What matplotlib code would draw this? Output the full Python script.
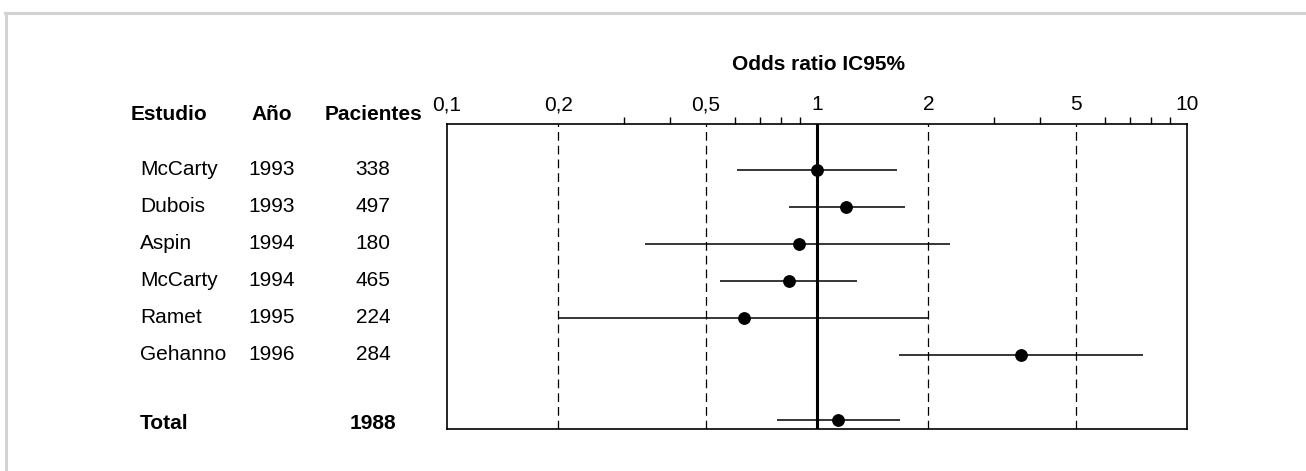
import matplotlib.pyplot as plt
import matplotlib.transforms as mtransforms
from matplotlib.lines import Line2D

plt.rcParams['font.family'] = ['Liberation Sans', 'DejaVu Sans']

# data
estudios = ['McCarty', 'Dubois', 'Aspin', 'McCarty', 'Ramet', 'Gehanno']
anios = [1993, 1993, 1994, 1994, 1995, 1996]
pacientes = [338, 497, 180, 465, 224, 284]
odds = [1.0, 1.20, 0.894, 0.842, 0.634, 3.55]
ic_low = [0.607, 0.842, 0.342, 0.548, 0.2, 1.662]
ic_high = [1.646, 1.728, 2.288, 1.285, 2.0, 7.62]

total_pacientes = 1988
total_odds = 1.137
total_low = 0.782
total_high = 1.674

tick_vals = [0.1, 0.2, 0.5, 1, 2, 5, 10]
tick_labels = ['0,1', '0,2', '0,5', '1', '2', '5', '10']
minor_vals = [0.3, 0.4, 0.6, 0.7, 0.8, 0.9, 3, 4, 6, 7, 8, 9]
ref_lines = [0.2, 0.5, 2, 5]

W, H = 1306, 471
FS = 15
fig = plt.figure(figsize=(W / 100, H / 100), dpi=100)
ax = fig.add_axes([447 / W, 1 - 429 / H, (1187 - 447) / W, (429 - 124) / H])

# gray frame (top and left only)
fig.add_artist(Line2D([5 / W, 1], [1 - 13 / H, 1 - 13 / H], color='#d2d2d2', lw=2.2,
                      transform=fig.transFigure))
fig.add_artist(Line2D([6 / W, 6 / W], [0, 1 - 13 / H], color='#d2d2d2', lw=2.2,
                      transform=fig.transFigure))

ax.set_xscale('log')
ax.set_xlim(0.1, 10)
ax.set_ylim(7.0, -1.243)

for v in ref_lines:
    ax.axvline(v, color='black', lw=0.9, dashes=(7, 4))
ax.axvline(1, color='black', lw=2.2)

rows = list(range(len(estudios)))
total_row = 6.76

ax.hlines(rows, ic_low, ic_high, color='black', lw=1.1)
ax.plot(odds, rows, 'o', color='black', ms=8.2)
ax.hlines([total_row], [total_low], [total_high], color='black', lw=1.1)
ax.plot([total_odds], [total_row], 'o', color='black', ms=8.2)

ax.xaxis.set_ticks_position('top')
ax.xaxis.set_label_position('top')
ax.set_xticks(tick_vals)
ax.set_xticklabels(tick_labels, fontsize=FS)
ax.set_xticks(minor_vals, minor=True)
ax.xaxis.set_minor_formatter(plt.NullFormatter())
ax.tick_params(axis='x', which='major', length=0, pad=7)
ax.tick_params(axis='x', which='minor', length=5, width=1, direction='out', top=True, bottom=False)
ax.set_yticks([])
for s in ax.spines.values():
    s.set_linewidth(1.2)

fig.text(818 / W, 1 - 65 / H, 'Odds ratio IC95%', ha='center', va='center',
         fontsize=FS, fontweight='bold')

tr = mtransforms.blended_transform_factory(fig.transFigure, ax.transData)
fig.text(131 / W, 1 - 115 / H, 'Estudio', ha='left', va='center', fontsize=FS, fontweight='bold')
fig.text(272 / W, 1 - 115 / H, 'Año', ha='center', va='center', fontsize=FS, fontweight='bold')
fig.text(373 / W, 1 - 115 / H, 'Pacientes', ha='center', va='center', fontsize=FS, fontweight='bold')

for i, (e, a, p) in enumerate(zip(estudios, anios, pacientes)):
    ax.text(140 / W, i, e, transform=tr, ha='left', va='center', fontsize=FS, clip_on=False)
    ax.text(272 / W, i, str(a), transform=tr, ha='center', va='center', fontsize=FS, clip_on=False)
    ax.text(373 / W, i, str(p), transform=tr, ha='center', va='center', fontsize=FS, clip_on=False)

ax.text(140 / W, total_row + 0.08, 'Total', transform=tr, ha='left', va='center',
        fontsize=FS, fontweight='bold', clip_on=False)
ax.text(373 / W, total_row + 0.08, str(total_pacientes), transform=tr, ha='center', va='center',
        fontsize=FS, fontweight='bold', clip_on=False)

fig.savefig('out.png', dpi=100)
